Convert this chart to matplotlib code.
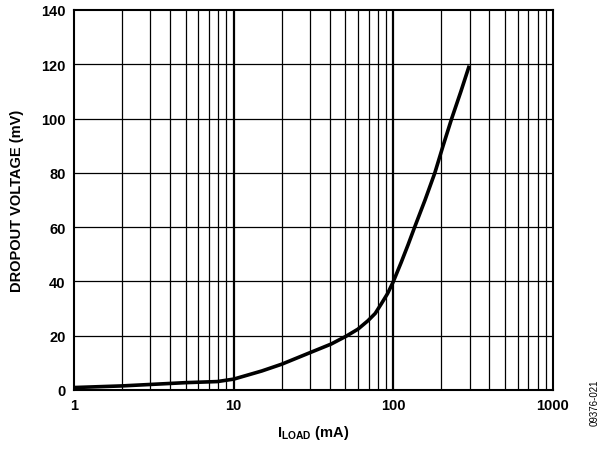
import matplotlib
matplotlib.use("Agg")
import matplotlib.pyplot as plt
import numpy as np

plt.rcParams['font.family'] = ['Liberation Sans', 'DejaVu Sans']
plt.rcParams['mathtext.fontset'] = 'custom'
plt.rcParams['mathtext.rm'] = 'Liberation Sans:bold'
plt.rcParams['mathtext.bf'] = 'Liberation Sans:bold'
plt.rcParams['mathtext.it'] = 'Liberation Sans:bold'

i_load = [1, 2, 5, 7.9, 10, 15, 20, 30.5, 40.7, 50.6, 60, 69.3, 77, 84, 92, 99.6, 112, 123.7, 136, 158, 182, 205, 232, 265, 299]
v_drop = [0.9, 1.5, 2.7, 3.1, 4.0, 7.0, 9.5, 13.9, 16.9, 19.8, 22.4, 25.5, 28.2, 31.7, 35.5, 39.7, 47, 53.5, 60, 70, 80, 90, 100, 110, 119.5]

x_ticks = [1, 10, 100, 1000]
x_ticklabels = ['1', '10', '100', '1000']
y_ticks = [0, 20, 40, 60, 80, 100, 120, 140]

fig = plt.figure(figsize=(6.02, 4.52), dpi=100)
ax = fig.add_axes([0.1229, 0.135, 0.7957, 0.8407])
ax.set_xscale('log')
ax.set_xlim(1, 1000)
ax.set_ylim(0, 140)

# grid
for dec in [1, 10, 100]:
    for m in range(2, 10):
        ax.axvline(dec * m, color='black', lw=0.9, zorder=1)
for v in [10, 100]:
    ax.axvline(v, color='black', lw=1.6, zorder=1)
for y in y_ticks[1:-1]:
    ax.axhline(y, color='black', lw=0.9, zorder=1)

ax.plot(i_load, v_drop, color='black', lw=2.6, zorder=3, solid_capstyle='butt',
        solid_joinstyle='round')

ax.set_xticks(x_ticks)
ax.set_xticklabels(x_ticklabels)
ax.xaxis.set_minor_locator(matplotlib.ticker.NullLocator())
ax.set_yticks(y_ticks)
ax.tick_params(length=0, labelsize=10.5, pad=6)
for lab in ax.get_xticklabels() + ax.get_yticklabels():
    lab.set_fontweight('bold')
for s in ax.spines.values():
    s.set_linewidth(1.5)

ax.set_ylabel('DROPOUT VOLTAGE (mV)', fontsize=10.5, fontweight='bold', labelpad=12)
ax.set_xlabel(r'$\mathbf{I_{LOAD}}$ (mA)', fontsize=10.5, fontweight='bold', labelpad=8)

fig.text(0.988, 0.11, '09376-021', rotation=90, fontsize=7, ha='center', va='center')

fig.savefig('out.png', dpi=100)
